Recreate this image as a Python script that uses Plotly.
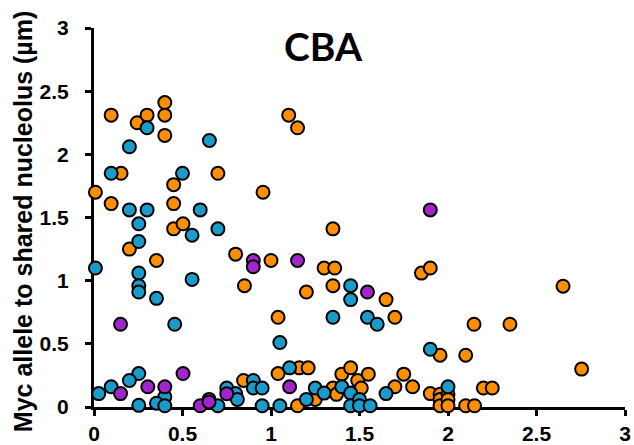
import plotly.graph_objects as go

# Orange series
orange_x = [0.097, 0.244, 0.30, 0.40, 0.40, 0.40, 0.153, 0.70, 0.45, 0.008, 0.097, 0.45,
            1.10, 1.15, 0.955, 0.45, 0.503, 0.20, 0.353, 0.80, 1.0, 0.85, 1.04, 1.04, 0.845,
            1.35, 1.30, 1.36, 1.85, 1.90, 1.20, 1.35, 1.65, 1.70, 2.147, 2.35, 2.65, 1.955, 2.10, 2.755,
            1.16, 1.21, 1.15, 1.25, 1.35, 1.37, 1.40, 1.45, 1.49, 1.51, 1.55, 1.70, 1.75, 1.80, 1.90,
            1.955, 1.955, 1.955, 2.0, 2.0, 2.0, 2.10, 2.15, 2.20, 2.25]
orange_y = [2.31, 2.25, 2.31, 2.41, 2.31, 2.15, 1.85, 1.85, 1.76, 1.70, 1.61, 1.61,
            2.31, 2.21, 1.70, 1.41, 1.45, 1.25, 1.16, 1.21, 1.16, 0.96, 0.71, 0.265, 0.21,
            1.41, 1.10, 1.10, 1.06, 1.10, 0.91, 0.96, 0.85, 0.71, 0.655, 0.655, 0.956, 0.41, 0.41, 0.30,
            0.31, 0.31, 0.01, 0.06, 0.15, 0.10, 0.26, 0.31, 0.21, 0.15, 0.26, 0.16, 0.26, 0.16, 0.106,
            0.10, 0.06, 0.01, 0.10, 0.06, 0.01, 0.01, 0.01, 0.15, 0.15]

# Blue series
blue_x = [0.30, 0.652, 0.20, 0.097, 0.50, 0.20, 0.30, 0.60, 0.253, 0.554, 0.70, 0.253, 0.008, 0.253,
          0.253, 0.253, 0.554, 0.353, 0.456, 1.05, 0.253, 0.20, 0.097, 0.027, 0.40, 0.253, 0.353, 0.40,
          0.65, 0.70, 0.75, 0.80, 0.81, 0.90, 0.90, 0.95, 0.95, 1.05, 1.105, 1.20, 1.25, 1.30, 1.40,
          1.45, 1.45, 1.50, 1.50, 1.56, 1.65, 1.45, 1.45, 1.35, 1.545, 1.60, 1.90, 2.0]
blue_y = [2.21, 2.11, 2.06, 1.85, 1.85, 1.56, 1.56, 1.56, 1.45, 1.36, 1.41, 1.31, 1.10, 1.06,
          0.96, 0.91, 1.01, 0.86, 0.655, 0.51, 0.265, 0.21, 0.16, 0.106, 0.08, 0.013, 0.03, 0.01,
          0.06, 0.01, 0.15, 0.106, 0.06, 0.21, 0.15, 0.15, 0.01, 0.01, 0.31, 0.06, 0.15, 0.11, 0.16,
          0.11, 0.01, 0.06, 0.01, 0.01, 0.106, 0.96, 0.85, 0.71, 0.71, 0.655, 0.457, 0.16]

# Purple series
purple_x = [0.90, 0.90, 0.15, 0.503, 0.15, 0.304, 0.40, 0.60, 0.65, 0.75, 1.15, 1.545, 1.105, 1.90]
purple_y = [1.16, 1.11, 0.655, 0.265, 0.106, 0.16, 0.16, 0.01, 0.04, 0.105, 1.16, 0.91, 0.16, 1.56]

x_ticks = [0, 0.5, 1, 1.5, 2, 2.5, 3]
x_tick_labels = ["0", "0.5", "1", "1.5", "2", "2.5", "3"]
y_ticks = [0, 0.5, 1, 1.5, 2, 2.5, 3]
y_tick_labels = ["0", "0.5", "1", "1.5", "2", "2.5", "3"]

title_text = "CBA"
y_title = "Myc allele to shared nucleolus (µm)"

fig = go.Figure()
marker_line = dict(color="black", width=2)
for xs, ys, col in [(orange_x, orange_y, "#FF8F00"),
                    (blue_x, blue_y, "#1A9CCB"),
                    (purple_x, purple_y, "#A424CC")]:
    fig.add_trace(go.Scatter(x=xs, y=ys, mode="markers", cliponaxis=False,
                             marker=dict(size=13, color=col, line=marker_line),
                             showlegend=False, hoverinfo="skip"))

fig.add_annotation(text="<b>" + title_text + "</b>", x=1.295, y=2.86, xref="x", yref="y",
                   showarrow=False, font=dict(family="Lato", size=39, color="black"))

fig.add_annotation(text="<b>" + y_title + "</b>", textangle=-90,
                   x=-0.134, y=0.49, xref="paper", yref="paper", xanchor="center", yanchor="middle",
                   showarrow=False, font=dict(family="Liberation Sans", size=25, color="black"))

axis_font = dict(family="Liberation Sans", size=21, color="black")
common = dict(range=[0, 3], showline=True, linecolor="black", linewidth=3, ticks="outside",
              ticklen=6, tickwidth=3, tickcolor="black", showgrid=False, zeroline=False,
              tickfont=axis_font, layer="below traces", automargin=False, fixedrange=True)
fig.update_layout(
    width=634, height=445,
    margin=dict(l=94, r=9, t=28, b=38),
    paper_bgcolor="white", plot_bgcolor="white",
    xaxis=dict(tickvals=x_ticks, ticktext=["<b>%s</b>" % t for t in x_tick_labels],
               ticklabelstandoff=0, **common),
    yaxis=dict(tickvals=y_ticks, ticktext=["<b>%s</b>" % t for t in y_tick_labels],
               ticklabelstandoff=12, **common),
)

fig.write_html("out.html", config={"displayModeBar": False},
               post_script="document.body.style.margin='0';document.body.style.overflow='hidden';")
